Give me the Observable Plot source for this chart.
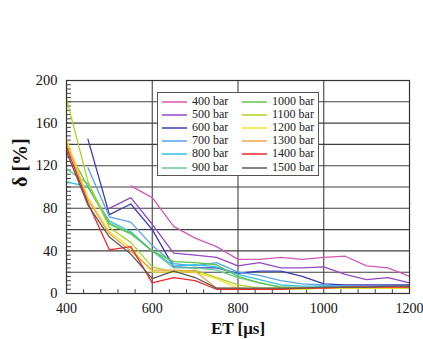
<!DOCTYPE html>
<html>
<head>
<meta charset="utf-8">
<script src="https://cdn.jsdelivr.net/npm/d3@7"></script>
<script src="https://cdn.jsdelivr.net/npm/@observablehq/plot@0.6"></script>
<style>
  body { margin: 0; background: #fff; }
  #wrap { position: relative; width: 423px; height: 339px; font-family: "Liberation Serif", "DejaVu Serif", "Times New Roman", serif; }
  #wrap svg, #wrap svg text { font-family: "Liberation Serif", "DejaVu Serif", "Times New Roman", serif !important; }
  #legend { position: absolute; left: 157px; top: 92px; width: 162px; height: 84px; border: 1px solid #555; background: #fff; box-sizing: border-box; }
  .item { position: absolute; height: 13px; font-size: 12px; line-height: 13px; color: #222; white-space: nowrap; }
  .item span.sw { position: absolute; top: 6px; width: 25px; height: 0; border-top: 2px solid; opacity: 0.75; }
  .item span.tx { position: absolute; left: 30px; top: 0; }
</style>
</head>
<body>
<div id="wrap"><div id="legend"></div></div>
<script>
const et = [400, 450, 500, 550, 600, 650, 700, 750, 800, 850, 900, 950, 1000, 1050, 1100, 1150, 1200];
const seriesNames = ["400 bar", "500 bar", "600 bar", "700 bar", "800 bar", "900 bar",
                     "1000 bar", "1100 bar", "1200 bar", "1300 bar", "1400 bar", "1500 bar"];
const seriesColors = ["#d457b4", "#9448c4", "#3c3cb4", "#5aa2e6", "#34c2e2", "#68cc96",
                      "#5cc444", "#a8d424", "#f2e42a", "#f2a448", "#f02828", "#5a5a5a"];
const p400  = [null, null, null, 101, 90, 63, 52, 44, 32, 32, 34, 32, 34, 35, 26, 24, 16];
const p500  = [null, null, 80, 90, 65, 38, 36, 34, 26, 29, 24, 24, 25, 18, 13, 15, 10];
const p600  = [null, 145, 74, 84, 60, 25, 24, 24, 19, 21, 21, 16, 9, 8, 8, 8, 8];
const p700  = [null, 118, 72, 67, 45, 28, 26, 29, 20, 17, 12, 9, 8, 7, 7, 7, 7];
const p800  = [105, 100, 68, 58, 40, 26, 27, 25, 18, 13, 8, 7, 7, 7, 6, 6, 6];
const p900  = [117, 103, 66, 57, 40, 24, 24, 22, 15, 10, 6, 6, 6, 6, 6, 6, 6];
const p1000 = [138, 100, 65, 56, 40, 30, 29, 27, 16, 10, 6, 5, 5, 5, 5, 5, 5];
const p1100 = [183, 105, 62, 48, 25, 20, 22, 15, 8, 5, 5, 5, 5, 5, 5, 5, 5];
const p1200 = [145, 90, 58, 43, 20, 20, 20, 14, 5, 4, 4, 4, 5, 5, 5, 5, 5];
const p1300 = [141, 88, 56, 40, 22, 22, 21, 5, 5, 4, 4, 5, 5, 6, 6, 6, 6];
const p1400 = [137, 85, 41, 44, 10, 15, 12, 4, 4, 4, 4, 5, 5, 6, 6, 6, 6];
const p1500 = [133, 83, 53, 37, 14, 21, 15, 5, 5, 5, 5, 5, 6, 6, 6, 7, 7];
const yTicks = [0, 40, 80, 120, 160, 200];
const yGrid = [20, 40, 60, 80, 100, 120, 140, 160, 180];
const xTicks = [400, 600, 800, 1000, 1200];
const xGrid = [600, 800, 1000];
const yMinor = d3.range(4, 200, 4);
const xMinor = d3.range(440, 1200, 40).filter(v => v % 200 !== 0);

const allSeries = [p400, p500, p600, p700, p800, p900, p1000, p1100, p1200, p1300, p1400, p1500];
const rows = allSeries.flatMap((vals, i) =>
  vals.map((v, j) => ({series: seriesNames[i], et: et[j], delta: v})).filter(d => d.delta != null));

const tickShape = {draw(context, l) { context.moveTo(0, 0); context.lineTo(0, -l); }};
const serif = "'Liberation Serif', 'DejaVu Serif', 'Times New Roman', serif";

const chart = Plot.plot({
  width: 423,
  height: 339,
  marginLeft: 66,
  marginRight: 14,
  marginTop: 80,
  marginBottom: 46,
  style: {fontFamily: serif, background: "#fff", color: "#111"},
  x: {domain: [400, 1200]},
  y: {domain: [0, 200]},
  color: {domain: seriesNames, range: seriesColors},
  marks: [
    Plot.gridY(yGrid, {stroke: "#404040", strokeOpacity: 1, strokeWidth: 1.1}),
    Plot.gridX(xGrid, {stroke: "#404040", strokeOpacity: 1, strokeWidth: 1.1}),
    Plot.vector(yMinor, {x: et[0], y: d => d, length: 4, rotate: 90, anchor: "start", shape: tickShape, stroke: "#444", strokeWidth: 1}),
    Plot.vector(xMinor, {x: d => d, y: 0, length: 4, rotate: 0, anchor: "start", shape: tickShape, stroke: "#444", strokeWidth: 1}),
    Plot.line(rows, {x: "et", y: "delta", z: "series", stroke: "series", strokeWidth: 1.3}),
    Plot.frame({stroke: "#333", strokeWidth: 1.2}),
    Plot.axisY(yTicks, {tickSize: 0, tickPadding: 9, fontSize: 14.5, label: null, fontFamily: serif}),
    Plot.axisX(xTicks, {tickSize: 0, tickPadding: 10, fontSize: 14, label: null, tickFormat: d3.format("d"), fontFamily: serif}),
    Plot.text(["δ [%]"], {frameAnchor: "left", rotate: -90, dx: -46, text: d => d, fontSize: 20, fontWeight: "bold", fill: "#111", fontFamily: serif}),
    Plot.text(["ET [μs]"], {frameAnchor: "bottom", dy: 40, text: d => d, fontSize: 17, fontWeight: "bold", fill: "#111", fontFamily: serif})
  ]
});
document.getElementById("wrap").prepend(chart);

const legend = document.getElementById("legend");
seriesNames.forEach((name, i) => {
  const col = Math.floor(i / 6), row = i % 6;
  const item = document.createElement("div");
  item.className = "item";
  item.style.left = (col === 0 ? 4 : 84) + "px";
  item.style.top = (2 + row * 13.1) + "px";
  item.innerHTML = `<span class="sw" style="border-color:${seriesColors[i]}"></span><span class="tx">${name}</span>`;
  legend.appendChild(item);
});
</script>
</body>
</html>
